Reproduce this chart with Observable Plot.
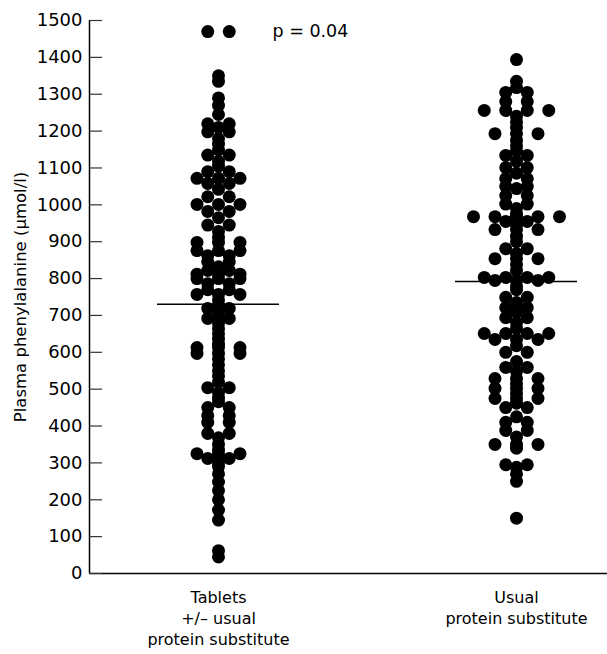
<!DOCTYPE html>
<html>
<head>
<meta charset="utf-8">
<script src="https://cdn.jsdelivr.net/npm/d3@7"></script>
<script src="https://cdn.jsdelivr.net/npm/@observablehq/plot@0.6"></script>
<style>
  body { margin: 0; background: #fff; }
  #chart svg { display: block; }
</style>
</head>
<body>
<div id="chart"></div>
<script>
// ---------- data ----------
const groupLabels = ["Tablets\n+/\u2013 usual\nprotein substitute", "Usual\nprotein substitute"];

// Plasma phenylalanine (µmol/l); repeated values are dots drawn side by side
const tabletsValues = [
  1470, 1470,
  1350, 1335, 1290, 1270, 1245,
  1220, 1220, 1210, 1198, 1198, 1180, 1165, 1150,
  1135, 1135, 1118, 1105, 1090, 1090, 1072, 1072, 1072,
  1058, 1058, 1042, 1022, 1022, 1001, 1001, 1001,
  982, 982, 965, 945, 945, 928, 912,
  898, 898, 898, 876, 876, 876, 862, 862, 845, 845, 832,
  822, 822, 812, 812, 812, 800, 800, 800, 786, 786,
  770, 770, 757, 757, 757, 742, 728, 719, 719, 705, 692, 692,
  678, 664, 650, 636, 622, 613, 613, 613, 597, 597, 597,
  582, 566, 550, 536, 520, 504, 504, 490, 476, 466,
  450, 450, 428, 428, 410, 410, 380, 380,
  368, 350, 335, 325, 325, 325, 312, 312, 300, 290,
  270, 248, 225, 200, 172, 145,
  62, 45
];
const usualValues = [
  1394,
  1335, 1318, 1305, 1305, 1280, 1280,
  1256, 1256, 1256, 1256,
  1240, 1225, 1210, 1193, 1193, 1193, 1175, 1160, 1147,
  1134, 1134, 1118, 1101, 1101, 1086, 1071, 1071,
  1050, 1050, 1044, 1025, 1025, 1002, 1002, 990,
  975, 968, 968, 968, 968, 968, 955, 955, 945,
  933, 933, 933, 915, 900, 881, 881, 868,
  854, 854, 854, 838, 822, 803, 803, 803, 803, 795, 795, 795,
  780, 770, 749, 749, 735, 721, 721, 708, 694, 694, 680, 665,
  651, 651, 651, 651, 635, 635, 635, 618, 600, 600,
  575, 559, 559, 548, 529, 529, 529, 515, 502, 502, 502,
  488, 475, 475, 475, 462, 450, 450, 425, 410, 410, 388, 388,
  370, 350, 350, 350, 340,
  295, 295, 288, 270, 250,
  150
];
const medians = [730, 792];
const yTicks = d3.range(0, 1501, 100);
const pLabel = "p = 0.04";
const yLabel = "Plasma phenylalanine (\u00b5mol/l)";

// ---------- layout helpers ----------
const width = 607, height = 654;
const marginLeft = 89, marginRight = 0, marginTop = 20, marginBottom = 81;
const groupGapPx = 298;                       // distance between the two group centres
const px = p => p / groupGapPx;               // pixels -> x units
const xDomain = [px(-(218 - marginLeft)), px(width - marginRight - 218)];
const slot = px(21.5);                        // spacing of dots sharing a value

function layoutGroup(values, g) {
  const counts = d3.rollup(values, v => v.length, d => d);
  const out = [];
  for (const [value, n] of counts) {
    for (let i = 0; i < n; i++) out.push({g, value, x: g + (i - (n - 1) / 2) * slot});
  }
  return out;
}
const dots = [...layoutGroup(tabletsValues, 0), ...layoutGroup(usualValues, 1)];
const medianData = medians.map((m, g) => ({g, m}));

const font = "'DejaVu Sans', sans-serif";

const chart = Plot.plot({
  width, height, marginLeft, marginRight, marginTop, marginBottom,
  style: {fontFamily: font, fontSize: "17px", color: "#000", background: "#fff"},
  x: {domain: xDomain, axis: null},
  y: {domain: [0, 1500]},
  marks: [
    // axes lines
    Plot.ruleX([xDomain[0]], {stroke: "#000", strokeWidth: 1.5}),
    Plot.ruleY([0], {stroke: "#000", strokeWidth: 1.5}),
    // inward ticks
    Plot.ruleY(yTicks, {y: d => d, x1: xDomain[0], x2: xDomain[0] + px(13), stroke: "#333", strokeWidth: 1.2}),
    Plot.axisY({ticks: yTicks, tickSize: 0, tickPadding: 7, tickFormat: d => String(d), label: null, fontSize: 18}),
    Plot.text([yLabel], {frameAnchor: "left", textAnchor: "middle", rotate: -90, dx: -69, fontSize: 16.5, fill: "#000"}),
    Plot.axisX({ticks: [0, 1], tickSize: 0, tickPadding: 15, tickFormat: i => groupLabels[i],
                label: null, fontSize: 16, lineHeight: 1.3}),
    // dots
    Plot.dot(dots, {x: "x", y: "value", r: 6.5, fill: "#000", stroke: null}),
    // medians
    Plot.ruleY(medianData, {y: "m", x1: d => d.g - px(61), x2: d => d.g + px(61), stroke: "#000", strokeWidth: 1.5}),
    // p value
    Plot.text([pLabel], {x: px(272 - 218), y: 1470, textAnchor: "start", fontSize: 17.5, fill: "#000"})
  ]
});
document.getElementById("chart").append(chart);
</script>
</body>
</html>
